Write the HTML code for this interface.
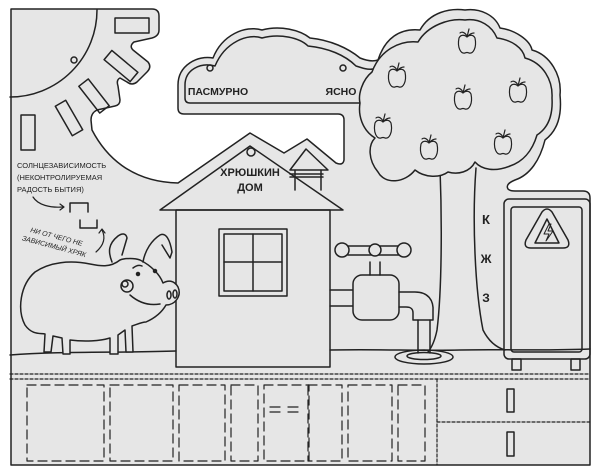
<!DOCTYPE html>
<html><head><meta charset="utf-8"><style>
html,body{margin:0;padding:0;background:#fff;}
svg{display:block;}
text{font-family:"Liberation Sans","DejaVu Sans",sans-serif;fill:#222;}
</style></head><body>
<svg width="600" height="475" viewBox="0 0 600 475" xmlns="http://www.w3.org/2000/svg">
<g stroke="#222" stroke-width="1.5" fill="none" stroke-linejoin="round" stroke-linecap="round">
<!-- board silhouette -->
<path fill="#e6e6e6" d="M11,9 H152 Q159,9 159,16 V30 Q159,36 152,38 L134,42 Q129,46 133,50 L148,62 Q152,67 147,72 L137,82 Q132,86 127,82 L120,78 Q116,80 118,86 L120,100 Q120,105 115,106 L97,110 Q91,113 91,120 L92,130 C105,155 130,182 178,183 L250,133 L284,153 L307,139 L336,163 Q343,166 344,160 V120 Q344,114 338,114 H184 Q178,114 178,108 V85 C178,65 198,55 213,58 C222,35 245,25 262,30 C280,25 300,30 310,38 C330,40 348,48 360,58 C365,60 372,62 378,60 C385,38 400,28 420,30 C430,12 450,8 465,10 C480,8 495,15 500,28 C515,30 530,40 532,50 C550,55 562,75 560,95 C562,115 558,130 545,140 C540,160 530,175 515,180 Q505,184 508,189 Q510,191 515,191 H583 Q590,191 590,198 V465 H11 Z"/>
<!-- sun -->
<path d="M97,10 A87,87 0 0 1 10,97"/>
<circle cx="74" cy="60" r="3"/>
<rect x="115" y="18" width="34" height="15"/>
<rect x="-17" y="-6" width="34" height="12" transform="translate(121,66) rotate(40)"/>
<rect x="-17" y="-6" width="34" height="12" transform="translate(94,96) rotate(52)"/>
<rect x="-17" y="-6" width="34" height="12" transform="translate(69,118) rotate(60)"/>
<rect x="21" y="115" width="14" height="35"/>
<!-- cloud inner -->
<path d="M360,103 H190 Q185,103 185,98 V85 C185,70 200,62 215,66 C225,42 248,33 262,38 C280,33 300,38 308,46 C328,48 345,55 356,66 C362,68 368,70 373,69"/>
<circle cx="210" cy="68" r="3"/>
<circle cx="343" cy="68" r="3"/>
<!-- tree trunk -->
<path d="M440,168 C442,220 442,290 437,330 C435,340 432,347 428,352"/>
<path d="M476,168 C472,220 475,290 483,330 C488,340 495,347 505,350"/>
<!-- crown inner -->
<path fill="#e6e6e6" d="M372,72 C380,50 400,40 418,42 C428,25 450,18 465,20 C480,18 492,26 497,38 C512,40 523,48 525,58 C543,63 553,80 552,98 C553,115 548,128 537,135 C532,152 522,162 510,166 C495,172 482,170 475,162 C470,172 458,175 448,172 C440,178 425,178 415,170 C405,183 385,185 378,172 C368,160 368,145 375,138 C362,130 358,115 360,103 C358,95 362,80 372,72 Z"/>
<!-- apples -->
<g stroke-width="1.2">
<g transform="translate(467,42)"><path d="M-8,-4 C-10,6 -6,12 -2,11 Q0,10 2,11 C6,12 10,6 8,-4 C6,-8 2,-7 0,-5 C-2,-7 -6,-8 -8,-4 Z"/><path d="M0,-5 L2,-13 M0,-6 C-3,-11 -6,-10 -7,-9 M1,-6 C4,-9 6,-9 7,-9"/></g>
<g transform="translate(397,76)"><path d="M-8,-4 C-10,6 -6,12 -2,11 Q0,10 2,11 C6,12 10,6 8,-4 C6,-8 2,-7 0,-5 C-2,-7 -6,-8 -8,-4 Z"/><path d="M0,-5 L2,-13 M0,-6 C-3,-11 -6,-10 -7,-9 M1,-6 C4,-9 6,-9 7,-9"/></g>
<g transform="translate(463,98)"><path d="M-8,-4 C-10,6 -6,12 -2,11 Q0,10 2,11 C6,12 10,6 8,-4 C6,-8 2,-7 0,-5 C-2,-7 -6,-8 -8,-4 Z"/><path d="M0,-5 L2,-13 M0,-6 C-3,-11 -6,-10 -7,-9 M1,-6 C4,-9 6,-9 7,-9"/></g>
<g transform="translate(518,91)"><path d="M-8,-4 C-10,6 -6,12 -2,11 Q0,10 2,11 C6,12 10,6 8,-4 C6,-8 2,-7 0,-5 C-2,-7 -6,-8 -8,-4 Z"/><path d="M0,-5 L2,-13 M0,-6 C-3,-11 -6,-10 -7,-9 M1,-6 C4,-9 6,-9 7,-9"/></g>
<g transform="translate(383,127)"><path d="M-8,-4 C-10,6 -6,12 -2,11 Q0,10 2,11 C6,12 10,6 8,-4 C6,-8 2,-7 0,-5 C-2,-7 -6,-8 -8,-4 Z"/><path d="M0,-5 L2,-13 M0,-6 C-3,-11 -6,-10 -7,-9 M1,-6 C4,-9 6,-9 7,-9"/></g>
<g transform="translate(429,148)"><path d="M-8,-4 C-10,6 -6,12 -2,11 Q0,10 2,11 C6,12 10,6 8,-4 C6,-8 2,-7 0,-5 C-2,-7 -6,-8 -8,-4 Z"/><path d="M0,-5 L2,-13 M0,-6 C-3,-11 -6,-10 -7,-9 M1,-6 C4,-9 6,-9 7,-9"/></g>
<g transform="translate(503,143)"><path d="M-8,-4 C-10,6 -6,12 -2,11 Q0,10 2,11 C6,12 10,6 8,-4 C6,-8 2,-7 0,-5 C-2,-7 -6,-8 -8,-4 Z"/><path d="M0,-5 L2,-13 M0,-6 C-3,-11 -6,-10 -7,-9 M1,-6 C4,-9 6,-9 7,-9"/></g>
</g>
<!-- ground -->
<path d="M10,355 C60,351 120,353 176,351"/>
<path d="M330,350 C380,349 420,351 460,350 C500,349 540,351 590,349"/>
<!-- house -->
<rect x="176" y="210" width="154" height="157"/>
<path d="M160,210 L250,146 L343,210 Z"/>
<circle cx="251" cy="152" r="4"/>
<path d="M290,170 L306,149 L328,170 Z"/>
<path d="M295,170 V190 M321,170 V190 M290,174 H323 M290,177 H323"/>
<rect x="219" y="229" width="68" height="67"/>
<rect x="224" y="234" width="58" height="57"/>
<path d="M253,234 V291 M224,262 H282"/>
<!-- faucet -->
<path d="M330,290 H354 M330,306 H354"/>
<rect x="353" y="275" width="46" height="45" rx="9" fill="#e6e6e6"/>
<path d="M399,292 H415 C428,292 434,300 433,312 V320 H413 V313 C413,308 410,307 406,307 H399"/>
<path d="M418,320 V353 M430,320 V353"/>
<ellipse cx="424" cy="357" rx="29" ry="7"/>
<ellipse cx="424" cy="356" rx="17" ry="3.5"/>
<path d="M370,275 V262 M380,275 V262"/>
<path d="M348,246 H402 M348,255 H402"/>
<circle cx="342" cy="250" r="7" fill="#e6e6e6"/>
<circle cx="404" cy="250" r="7" fill="#e6e6e6"/>
<circle cx="375" cy="250" r="6" fill="#e6e6e6"/>
<!-- electric box -->
<rect x="504" y="199" width="86" height="160" rx="5"/>
<rect x="511" y="207" width="71" height="145" rx="3"/>
<rect x="512" y="359" width="9" height="11"/>
<rect x="571" y="359" width="9" height="11"/>
<path d="M542,212 Q547,206 552,212 L568,240 Q571,248 563,248 H531 Q523,248 526,240 Z"/>
<path d="M547,219 L559,243 H535 Z"/>
<path d="M549,224 L544,234 H549 L546,241 L553,231 H548 L551,224 Z" stroke-width="1"/>
<!-- pig -->
<path fill="#e6e6e6" d="M120,260 C110,268 100,266 90,264 C70,260 50,262 35,272 C20,285 17,310 25,325 C32,335 40,333 45,334 L44,352 H51 L53,336 L62,338 L63,354 H70 L70,340 C85,342 100,341 110,338 L110,354 H118 L118,335 L125,330 L126,352 H133 L132,326 C138,324 142,322 146,322 C155,318 162,312 166,305 C175,305 182,296 178,287 C174,280 168,280 163,283 C160,275 152,266 140,260 C135,258 125,258 120,260 Z"/>
<path d="M112,262 C108,252 108,244 118,236 C122,233 126,233 127,238 L122,255"/>
<path d="M143,262 C145,250 152,240 160,235 C166,232 170,240 172,252 L170,258 L162,245"/>
<circle cx="127" cy="286" r="6"/>
<circle cx="125" cy="284" r="3"/>
<circle cx="138" cy="274" r="1.5" fill="#222"/>
<circle cx="155" cy="271" r="1.5" fill="#222"/>
<path d="M133,268 Q138,264 142,266"/>
<ellipse cx="169" cy="295" rx="2" ry="4"/>
<ellipse cx="175" cy="294" rx="2" ry="4"/>
<path d="M130,295 C138,302 148,306 160,304"/>
<!-- annotations -->
<path d="M70,212 V203 H88 V212"/>
<path d="M80,220 V228 H97 V220"/>
<path d="M33,197 C38,205 50,208 63,207" stroke-width="1.2"/>
<path d="M60,204 L64,207 L60,210" stroke-width="1.2"/>
<path d="M96,252 C104,245 106,238 102,230" stroke-width="1.2"/>
<path d="M99,233 L102,229 L105,233" stroke-width="1.2"/>
<!-- bottom dashed -->
<g stroke-width="1.2">
<path d="M10,374 H590" stroke-dasharray="3,2"/>
<path d="M10,379 H590" stroke-dasharray="3,2"/>
<path d="M437,379 V465" stroke-dasharray="3,2"/>
<path d="M437,422 H590" stroke-dasharray="3,2"/>
<g stroke-dasharray="9,5">
<rect x="27" y="385" width="77" height="76"/>
<rect x="110" y="385" width="63" height="76"/>
<rect x="179" y="385" width="46" height="76"/>
<rect x="231" y="385" width="27" height="76"/>
<rect x="264" y="385" width="45" height="76"/>
<rect x="308" y="385" width="34" height="76"/>
<rect x="348" y="385" width="44" height="76"/>
<rect x="398" y="385" width="27" height="76"/>
</g>
<path d="M270,407 H280 M270,412 H280 M288,407 H298 M288,412 H298"/>
</g>
<rect x="507" y="389" width="7" height="23"/>
<rect x="507" y="432" width="7" height="24"/>
</g>
<!-- texts -->
<text x="218" y="95" font-size="10.5" font-weight="bold" text-anchor="middle">ПАСМУРНО</text>
<text x="341" y="95" font-size="10.5" font-weight="bold" text-anchor="middle">ЯСНО</text>
<text x="250" y="176" font-size="11" font-weight="bold" text-anchor="middle">ХРЮШКИН</text>
<text x="250" y="191" font-size="11" font-weight="bold" text-anchor="middle">ДОМ</text>
<text x="486" y="224" font-size="13" font-weight="bold" text-anchor="middle">К</text>
<text x="486" y="263" font-size="12" font-weight="bold" text-anchor="middle">Ж</text>
<text x="486" y="302" font-size="12" font-weight="bold" text-anchor="middle">З</text>
<text x="17" y="168" font-size="7.5">СОЛНЦЕЗАВИСИМОСТЬ</text>
<text x="17" y="180" font-size="7.5">(НЕКОНТРОЛИРУЕМАЯ</text>
<text x="17" y="192" font-size="7.5">РАДОСТЬ БЫТИЯ)</text>
<g transform="translate(30,232) rotate(15)">
<text x="0" y="0" font-size="7" font-style="italic">НИ ОТ ЧЕГО НЕ</text>
<text x="-6" y="10" font-size="7" font-style="italic">ЗАВИСИМЫЙ ХРЯК</text>
</g>
</svg>
</body></html>
